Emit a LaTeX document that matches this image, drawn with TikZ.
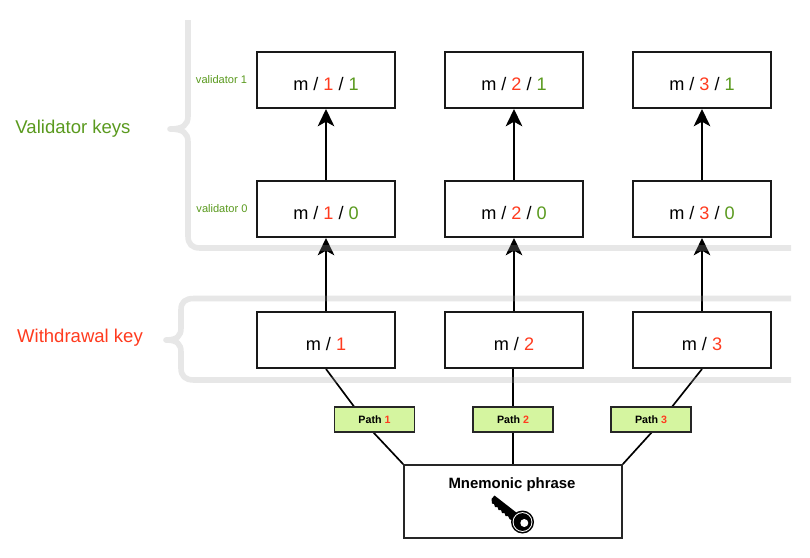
\documentclass[tikz,border=0pt]{standalone}
\usepackage{fontspec}
\setmainfont{Liberation Sans}
\usetikzlibrary{arrows.meta,backgrounds,calc}
\definecolor{keyred}{HTML}{FF3B1F}
\definecolor{keygreen}{HTML}{5A9A1E}
\definecolor{pathfill}{HTML}{D5F5A0}
\definecolor{bracegray}{RGB}{160,160,160}
\newcommand{\drop}[2]{\raisebox{-#1}[0pt][0pt]{#2}}
\newcommand{\rd}[1]{\textcolor{keyred}{#1}}
\newcommand{\gr}[1]{\textcolor{keygreen}{#1}}
\tikzset{
  keybox/.style={draw=black!90,line width=1.5pt,fill=white,minimum width=104pt,minimum height=42pt,inner sep=0pt,font=\fontsize{13.6pt}{15pt}\selectfont},
  pathbox/.style={draw=black!85,line width=1.2pt,fill=pathfill,minimum width=60pt,minimum height=18.75pt,inner sep=0pt,font=\fontsize{8pt}{9pt}\selectfont\bfseries},
  rootbox/.style={draw=black!85,line width=1.2pt,fill=white,minimum width=163.5pt,minimum height=54.75pt,inner sep=0pt,font=\fontsize{11.2pt}{13pt}\selectfont\bfseries},
  link/.style={draw=black,line width=1.25pt},
  uparrow/.style={draw=black,line width=1.25pt,-{Stealth[length=13pt,width=12.5pt,inset=3.5pt]}},
  bracket/.style={draw=bracegray,opacity=.25,line width=4.2pt,line cap=butt,line join=round},
  sidelabel/.style={font=\fontsize{13.9pt}{16pt}\selectfont,inner sep=0pt,anchor=base},
  rowlabel/.style={font=\fontsize{8.3pt}{10pt}\selectfont,text=keygreen,inner sep=0pt,anchor=base}
}
\begin{document}
\begin{tikzpicture}[x=0.75pt,y=-0.75pt]
\useasboundingbox (0,0) rectangle (810,557);
\begin{scope}[on background layer]
\fill[white] (0,0) rectangle (810,557);
\end{scope}

% key boxes
\node[keybox] (a1) at (326,80) {\drop{7.9pt}{m / \rd{1} / \gr{1}}};
\node[keybox] (a2) at (514,80) {\drop{7.9pt}{m / \rd{2} / \gr{1}}};
\node[keybox] (a3) at (702,80) {\drop{7.9pt}{m / \rd{3} / \gr{1}}};
\node[keybox] (b1) at (326,209) {\drop{7.9pt}{m / \rd{1} / \gr{0}}};
\node[keybox] (b2) at (514,209) {\drop{7.9pt}{m / \rd{2} / \gr{0}}};
\node[keybox] (b3) at (702,209) {\drop{7.9pt}{m / \rd{3} / \gr{0}}};
\node[keybox] (c1) at (326,340) {\drop{7.9pt}{m / \rd{1}}};
\node[keybox] (c2) at (514,340) {\drop{7.9pt}{m / \rd{2}}};
\node[keybox] (c3) at (702,340) {\drop{7.9pt}{m / \rd{3}}};

\node[pathbox] (p1) at (374.5,419.5) {\drop{3pt}{Path \rd{1}}};
\node[pathbox] (p2) at (513,419.5) {\drop{3pt}{Path \rd{2}}};
\node[pathbox] (p3) at (651,419.5) {\drop{3pt}{Path \rd{3}}};
\node[rootbox] (root) at (513,501.5) {};
\node[font=\fontsize{11.2pt}{13pt}\selectfont\bfseries,inner sep=0pt,anchor=base] (roottext) at (512,488.5) {Mnemonic phrase};

% connectors behind the path boxes
\coordinate (w1) at (373,432);
\coordinate (w3) at (652,432);
\begin{scope}[on background layer]
\draw[link] (c1.south) -- (w1) -- (root.north west);
\draw[link] (c3.south) -- (w3) -- (root.north east);
\draw[link] (c2.south -| p2) -- (p2.north);
\draw[link] (p2.south) -- (root.north);
\end{scope}

% arrows
\foreach \u/\v in {b1/a1,b2/a2,b3/a3,c1/b1,c2/b2,c3/b3}
  \draw[uparrow] (\u.north) -- (\v.south);

% braces
\draw[bracket] (188,20) -- (188,116) .. controls (188,125) and (183,129) .. (170,129)
  .. controls (183,129) and (188,133) .. (188,142) -- (188,236)
  .. controls (188,244) and (192,248) .. (200,248) -- (791,248);
\draw[bracket] (791,298.5) -- (194,298.5) .. controls (185,298.5) and (181,302) .. (181,310)
  -- (181,328) .. controls (181,336) and (177,340) .. (166,340)
  .. controls (177,340) and (181,344) .. (181,352) -- (181,368)
  .. controls (181,376) and (185,380) .. (194,380) -- (791,380);

% labels
\node[sidelabel,text=keygreen] (vk) at (73,133) {Validator keys};
\node[sidelabel,text=keyred] (wk) at (80,342) {Withdrawal key};
\node[rowlabel] (v1) at (221.5,83) {validator 1};
\node[rowlabel] (v0) at (222,212) {validator 0};

% key icon
\begin{scope}
\fill[black] (491.5,499) -- (494.5,495.5) -- (517,513) -- (513,521)
  -- (509.5,519) -- (508,516) -- (505.5,516) -- (504.5,513) -- (502,513)
  -- (501,510) -- (498.5,510) -- (497.5,507) -- (495,507) -- (494,504) -- (492,503.5) -- cycle;
\fill[black] (522.5,522) circle[radius=11.5];
\fill[white] (522.5,522) circle[radius=9.9];
\fill[black] (522.5,522) circle[radius=8.9];
\fill[white] (524.3,523) circle[radius=4];
\end{scope}
\end{tikzpicture}
\end{document}
